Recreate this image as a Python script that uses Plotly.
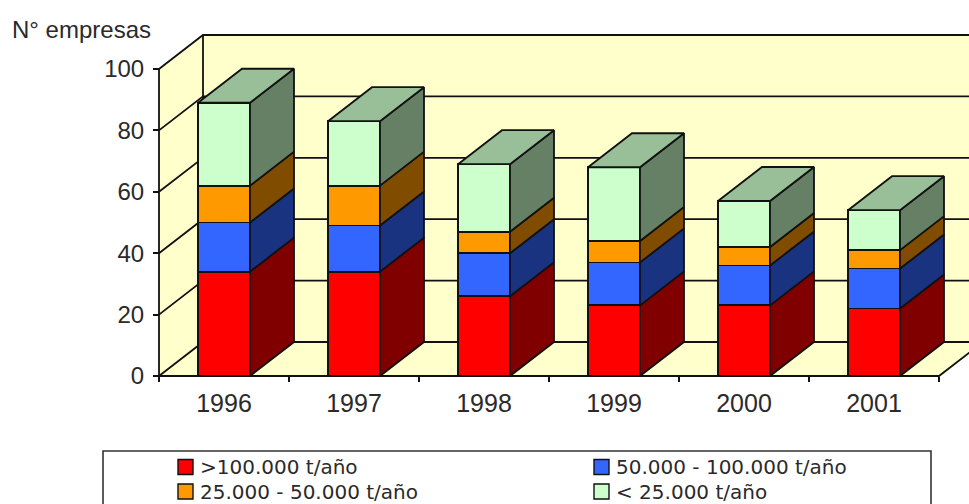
import plotly.graph_objects as go

# Number of companies per year, split by production class
years = ["1996", "1997", "1998", "1999", "2000", "2001"]
over_100k = [34, 34, 26, 23, 23, 22]
from_50k_to_100k = [16, 15, 14, 14, 13, 13]
from_25k_to_50k = [12, 13, 7, 7, 6, 6]
under_25k = [27, 21, 22, 24, 15, 13]

series = [
    (">100.000 t/año", over_100k, "#FF0000", "#800000", "#BF0000"),
    ("50.000 - 100.000 t/año", from_50k_to_100k, "#3366FF", "#1A3380", "#264CBF"),
    ("25.000 - 50.000 t/año", from_25k_to_50k, "#FF9900", "#804C00", "#BF7300"),
    ("< 25.000 t/año", under_25k, "#CCFFCC", "#668066", "#99BF99"),
]

W, H = 969, 504
X0_PX, Y0_PX = 159, 376       # position of the axes' origin
X_UNIT, Y_UNIT = 130.0, 3.07  # pixels per category / per company
DEPTH_X = 44 / X_UNIT         # oblique depth of the box, in axis units
DEPTH_Y = 34 / Y_UNIT
BAR_W = 0.4
INK = "#111111"
TEXT = "#2A2A2A"
WALL = "#FFFFCC"
FONT = "Liberation Sans"
KEY_FONT = "DejaVu Sans"
LW = 1.8

fig = go.Figure()

positions = [i + 0.5 for i in range(len(years))]

# Stacked front faces
for name, values, front, _, _ in series:
    fig.add_trace(go.Bar(
        x=positions, y=values, name=name, width=BAR_W, showlegend=False,
        marker=dict(color=front, line=dict(color=INK, width=LW)),
        hoverinfo="name+y",
    ))

# Oblique side and top faces derived from the same stacked values
base = [0] * len(years)
for s_idx, (name, values, _, side, top) in enumerate(series):
    for i, xc in enumerate(positions):
        lo = base[i]
        hi = lo + values[i]
        xr = xc + BAR_W / 2
        fig.add_trace(go.Scatter(
            x=[xr, xr + DEPTH_X, xr + DEPTH_X, xr, xr],
            y=[lo, lo + DEPTH_Y, hi + DEPTH_Y, hi, lo],
            mode="lines", fill="toself", fillcolor=side,
            line=dict(color=INK, width=LW), showlegend=False, hoverinfo="skip",
        ))
        if s_idx == len(series) - 1:
            xl = xc - BAR_W / 2
            fig.add_trace(go.Scatter(
                x=[xl, xl + DEPTH_X, xr + DEPTH_X, xr, xl],
                y=[hi, hi + DEPTH_Y, hi + DEPTH_Y, hi, hi],
                mode="lines", fill="toself", fillcolor=top,
                line=dict(color=INK, width=LW), showlegend=False, hoverinfo="skip",
            ))
        base[i] = hi


def poly(points, fill=None):
    path = "M " + " L ".join(f"{x},{y}" for x, y in points)
    if fill:
        path += " Z"
    return dict(type="path", path=path, xref="x", yref="y", layer="below",
                fillcolor=fill or "rgba(0,0,0,0)",
                line=dict(color=INK, width=LW if fill is None else 0))


n = len(years)
shapes = [
    # Back wall, left wall and floor of the box
    poly([(DEPTH_X, DEPTH_Y), (n + DEPTH_X, DEPTH_Y), (n + DEPTH_X, 100 + DEPTH_Y), (DEPTH_X, 100 + DEPTH_Y)], WALL),
    poly([(0, 0), (DEPTH_X, DEPTH_Y), (DEPTH_X, 100 + DEPTH_Y), (0, 100)], WALL),
    poly([(0, 0), (n, 0), (n + DEPTH_X, DEPTH_Y), (DEPTH_X, DEPTH_Y)], WALL),
]
# Gridlines wrapping around the left and back walls
for v in range(0, 101, 20):
    shapes.append(poly([(0, v), (DEPTH_X, v + DEPTH_Y), (n + DEPTH_X, v + DEPTH_Y)]))
shapes += [
    poly([(0, 0), (0, 100)]),
    poly([(DEPTH_X, DEPTH_Y), (DEPTH_X, 100 + DEPTH_Y)]),
    poly([(0, 0), (n, 0), (n + DEPTH_X, DEPTH_Y)]),
]

# Key box, running off the lower edge of the page
shapes.append(dict(type="rect", xref="paper", yref="paper", layer="below",
                   x0=103 / W, x1=931 / W, y0=-0.05, y1=1 - 451 / H,
                   fillcolor="white", line=dict(color="#333333", width=1.6)))

annotations = [dict(
    text="N° empresas", xref="paper", yref="paper", x=10 / W, y=1 - 29 / H,
    xanchor="left", yanchor="middle", showarrow=False,
    font=dict(size=24, family=FONT, color=TEXT),
)]

# Two-column key, read row by row in stacking order
key_cols = [178, 594]
key_rows = [467, 491.5]
for k, (name, _, front, _, _) in enumerate(series):
    left = key_cols[k % 2]
    mid = key_rows[k // 2]
    shapes.append(dict(type="rect", xref="paper", yref="paper", layer="above",
                       x0=left / W, x1=(left + 15) / W,
                       y0=1 - (mid + 7.5) / H, y1=1 - (mid - 7.5) / H,
                       fillcolor=front, line=dict(color=INK, width=1.4)))
    annotations.append(dict(
        text=name, xref="paper", yref="paper", x=(left + 22) / W, y=1 - mid / H,
        xanchor="left", yanchor="middle", showarrow=False, xshift=-2,
        font=dict(size=20, family=KEY_FONT, color=TEXT),
    ))

fig.update_layout(
    width=W, height=H, autosize=False,
    margin=dict(l=0, r=0, t=0, b=0, autoexpand=False),
    paper_bgcolor="white", plot_bgcolor="white",
    barmode="stack", shapes=shapes, annotations=annotations,
    hovermode="closest", showlegend=False,
    font=dict(family=FONT, color=TEXT),
    xaxis=dict(
        range=[-X0_PX / X_UNIT, (W - X0_PX) / X_UNIT], domain=[0, 1],
        anchor="free", position=1 - Y0_PX / H,
        tickmode="array", tickvals=positions, ticktext=years,
        ticks="", showgrid=False, zeroline=False, showline=False,
        tickfont=dict(size=25, family=FONT, color=TEXT), ticklabelstandoff=10,
        minor=dict(tickmode="array", tickvals=list(range(n + 1)), ticks="outside",
                   ticklen=5, tickwidth=1.6, tickcolor=INK, showgrid=False),
    ),
    yaxis=dict(
        range=[-(H - Y0_PX) / Y_UNIT, Y0_PX / Y_UNIT], domain=[0, 1],
        anchor="free", position=X0_PX / W,
        tickmode="array", tickvals=[0, 20, 40, 60, 80, 100],
        ticks="outside", ticklen=6, tickwidth=1.6, tickcolor=INK,
        showgrid=False, zeroline=False, showline=False,
        ticklabelstandoff=4,
        tickfont=dict(size=24, family=FONT, color=TEXT),
    ),
)

fig.write_html("out.html")
